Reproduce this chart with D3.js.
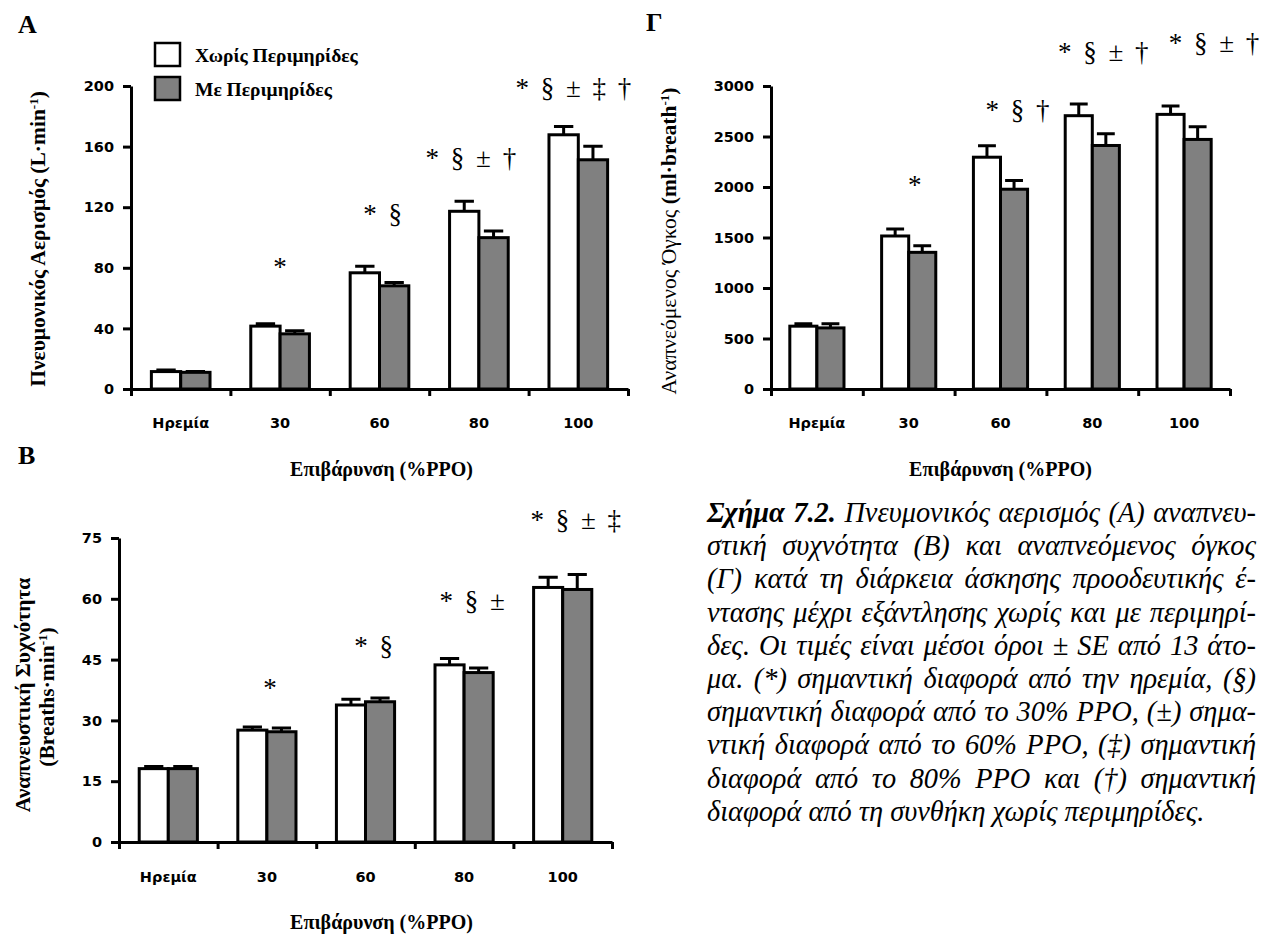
<!DOCTYPE html>
<html>
<head>
<meta charset="utf-8">
<script src="https://cdn.jsdelivr.net/npm/d3@7"></script>
<style>
  html, body { margin: 0; padding: 0; background: #fff; }
  svg { display: block; }
</style>
</head>
<body>
<svg id="fig" width="1273" height="942"></svg>
<script>
// ---- data ----
const categories = ["Ηρεμία", "30", "60", "80", "100"];
const seriesNames = ["Χωρίς Περιμηρίδες", "Με Περιμηρίδες"];

// A: Πνευμονικός αερισμός (L·min-1)
const veTicks = [0, 40, 80, 120, 160, 200];
const veWithout = [11.5, 41.5, 76.7, 117.3, 167.8];
const veWithoutSE = [1.0, 1.5, 4.3, 6.7, 5.5];
const veWith = [11.0, 36.4, 68.1, 99.9, 151.3];
const veWithSE = [0.5, 2.0, 2.2, 4.4, 9.0];
const veMarks = ["", "*", "* §", "* § ± †", "* § ± ‡ †"];

// B: Αναπνευστική συχνότητα (breaths·min-1)
const fbTicks = [0, 15, 30, 45, 60, 75];
const fbWithout = [18.1, 27.6, 33.8, 43.7, 62.8];
const fbWithoutSE = [0.5, 0.8, 1.4, 1.6, 2.5];
const fbWith = [18.1, 27.2, 34.6, 41.8, 62.3];
const fbWithSE = [0.5, 0.9, 0.9, 1.1, 3.7];
const fbMarks = ["", "*", "* §", "* § ±", "* § ± ‡"];

// Γ: Αναπνεόμενος όγκος (ml·breath-1)
const vtTicks = [0, 500, 1000, 1500, 2000, 2500, 3000];
const vtWithout = [622, 1515, 2295, 2706, 2719];
const vtWithoutSE = [23, 69, 113, 116, 83];
const vtWith = [605, 1353, 1978, 2411, 2471];
const vtWithSE = [40, 66, 86, 116, 125];
const vtMarks = ["", "*", "* § †", "* § ± †", "* § ± †"];

const captionLines = [
  "Πνευμονικός αερισμός (A) αναπνευ-",
  "στική συχνότητα (B) και αναπνεόμενος όγκος",
  "(Γ) κατά τη διάρκεια άσκησης προοδευτικής έ-",
  "ντασης μέχρι εξάντλησης χωρίς και με περιμηρί-",
  "δες. Οι τιμές είναι μέσοι όροι ± SE από 13 άτο-",
  "μα. (*) σημαντική διαφορά από την ηρεμία, (§)",
  "σημαντική διαφορά από το 30% PPO, (±) σημα-",
  "ντική διαφορά από το 60% PPO, (‡) σημαντική",
  "διαφορά από το 80% PPO και (†) σημαντική",
  "διαφορά από τη συνθήκη χωρίς περιμηρίδες."
];

// ---- styles ----
const SERIF = "'Liberation Serif', 'Times New Roman', serif";
const SANS = "'DejaVu Sans', Verdana, sans-serif";
const fills = ["#ffffff", "#808080"];
const LW = 3;

const svg = d3.select("#fig");
svg.append("rect").attr("width", 1273).attr("height", 942).attr("fill", "#fff");

function drawPanel(p) {
  const g = svg.append("g");
  const x = d3.scaleBand().domain(categories).range([p.left, p.right]);
  const pairW = x.bandwidth() * 0.59;
  const inner = d3.scaleBand().domain([0, 1]).range([0, pairW]);
  const off = (x.bandwidth() - pairW) / 2;
  const y = d3.scaleLinear().domain([0, p.max]).range([p.bottom, p.top]);
  const capW = inner.bandwidth() * 0.66;

  const series = [
    { vals: p.without, se: p.withoutSE },
    { vals: p.with, se: p.withSE }
  ];

  series.forEach((s, si) => {
    const grp = g.append("g");
    grp.selectAll("rect")
      .data(categories.map((c, i) => ({ c, v: s.vals[i] })))
      .join("rect")
      .attr("x", d => x(d.c) + off + inner(si))
      .attr("y", d => y(d.v))
      .attr("width", inner.bandwidth())
      .attr("height", d => y(0) - y(d.v))
      .attr("fill", fills[si])
      .attr("stroke", "#000")
      .attr("stroke-width", LW);

    grp.selectAll("path.err")
      .data(categories.map((c, i) => ({ c, v: s.vals[i], e: s.se[i] })))
      .join("path")
      .attr("class", "err")
      .attr("d", d => {
        const cx = x(d.c) + off + inner(si) + inner.bandwidth() / 2;
        const y0 = y(d.v), y1 = y(d.v + d.e);
        return `M${cx},${y0}V${y1}M${cx - capW / 2},${y1}H${cx + capW / 2}`;
      })
      .attr("fill", "none")
      .attr("stroke", "#000")
      .attr("stroke-width", LW);
  });

  // y axis
  const ya = g.append("g")
    .attr("transform", `translate(${p.left},0)`)
    .call(d3.axisLeft(y).tickValues(p.ticks).tickFormat(d3.format("d"))
      .tickSize(8).tickSizeOuter(0).tickPadding(9));
  ya.select(".domain").attr("stroke-width", LW);
  ya.selectAll(".tick line").attr("stroke-width", LW);
  ya.selectAll(".tick text")
    .attr("font-family", SANS).attr("font-weight", "bold")
    .attr("font-size", 14.5).attr("fill", "#000");

  // x axis: ticks on category boundaries
  const xb = d3.scaleLinear().domain([0, categories.length]).range([p.left, p.right]);
  const xa = g.append("g")
    .attr("transform", `translate(0,${p.bottom})`)
    .call(d3.axisBottom(xb).tickValues(d3.range(categories.length + 1))
      .tickSize(7).tickSizeOuter(0).tickFormat(""));
  xa.select(".domain").attr("stroke-width", LW);
  xa.selectAll(".tick line").attr("stroke-width", LW);

  // category labels
  const xl = g.append("g")
    .attr("transform", `translate(0,${p.bottom})`)
    .call(d3.axisBottom(x).tickSize(0).tickPadding(p.labelPad));
  xl.select(".domain").remove();
  xl.selectAll(".tick text")
    .attr("font-family", SANS).attr("font-weight", "bold")
    .attr("font-size", 14.5).attr("fill", "#000");

  // x-axis title
  g.append("text")
    .attr("x", (p.left + p.right) / 2 + (p.titleDx || 0))
    .attr("y", p.bottom + 87)
    .attr("text-anchor", "middle")
    .attr("font-family", SERIF).attr("font-weight", "bold").attr("font-size", 20)
    .text("Επιβάρυνση (%PPO)");

  // significance marks
  g.append("g").selectAll("text")
    .data(categories.map((c, i) => ({ c, i, m: p.marks[i] })).filter(d => d.m))
    .join("text")
    .attr("x", d => x(d.c) + x.bandwidth() / 2 + p.markDx[d.i])
    .attr("y", d => {
      const top = Math.max(p.without[d.i] + p.withoutSE[d.i], p.with[d.i] + p.withSE[d.i]);
      return y(top) - p.markGap[d.i];
    })
    .attr("dy", "0.35em")
    .attr("text-anchor", "middle")
    .attr("font-family", SERIF).attr("font-size", 27)
    .attr("word-spacing", 5)
    .text(d => d.m);

  return g;
}

drawPanel({
  left: 131, right: 628, top: 86, bottom: 389, max: 200, ticks: veTicks,
  without: veWithout, withoutSE: veWithoutSE, with: veWith, withSE: veWithSE,
  marks: veMarks, markDx: [0, 0, 3, -8, -5], markGap: [0, 57, 53, 44, 39],
  labelPad: 29, titleDx: 2
});

drawPanel({
  left: 771, right: 1230, top: 86, bottom: 389, max: 3000, ticks: vtTicks,
  without: vtWithout, withoutSE: vtWithoutSE, with: vtWith, withSE: vtWithSE,
  marks: vtMarks, markDx: [0, 6, 17, 11, 30], markGap: [0, 44, 36, 52, 63],
  labelPad: 29
});

drawPanel({
  left: 119, right: 612, top: 538, bottom: 842, max: 75, ticks: fbTicks,
  without: fbWithout, withoutSE: fbWithoutSE, with: fbWith, withSE: fbWithSE,
  marks: fbMarks, markDx: [0, 3, 8, 8, 13], markGap: [0, 39, 53, 58, 55],
  labelPad: 30, titleDx: 16
});

// panel letters
[["A", 18, 33], ["B", 18, 464], ["Γ", 646, 31]].forEach(([t, lx, ly]) => {
  svg.append("text").attr("x", lx).attr("y", ly)
    .attr("font-family", SERIF).attr("font-weight", "bold").attr("font-size", 26)
    .text(t);
});

// y-axis titles
function yTitle(cx, cy, parts) {
  const t = svg.append("text")
    .attr("transform", `translate(${cx},${cy}) rotate(-90)`)
    .attr("text-anchor", "middle").attr("dy", "0.35em")
    .attr("font-family", SERIF).attr("font-size", 21.5);
  parts.forEach(pt => {
    const ts = t.append("tspan").text(pt.t).attr("font-weight", pt.w || "bold");
    if (pt.sup) ts.attr("baseline-shift", "super").attr("font-size", 13);
  });
  return t;
}
yTitle(37, 239, [{ t: "Πνευμονικός Αερισμός  (L·min" }, { t: "-1", sup: true }, { t: ")" }]);
yTitle(668, 241, [{ t: "Αναπνεόμενος Όγκος  ", w: "normal" }, { t: "(ml·breath" }, { t: "-1", sup: true }, { t: ")" }]);
yTitle(22, 695, [{ t: "Αναπνευστική Συχνότητα" }]);
yTitle(46, 697, [{ t: "(Breaths·min" }, { t: "-1", sup: true }, { t: ")" }]);

// legend
const legend = svg.append("g");
seriesNames.forEach((name, i) => {
  legend.append("rect")
    .attr("x", 155).attr("y", 43 + i * 34).attr("width", 25).attr("height", 23)
    .attr("fill", fills[i]).attr("stroke", "#000").attr("stroke-width", 2.5);
  legend.append("text")
    .attr("x", 195).attr("y", 55 + i * 34).attr("dy", "0.35em")
    .attr("font-family", SERIF).attr("font-weight", "bold").attr("font-size", 19.5)
    .text(name);
});

// caption: justified italic serif
const capLeft = 707, capRight = 1256, capTop = 512, capStep = 33.2;
const capW = capRight - capLeft;
const cap = svg.append("g").attr("font-family", SERIF).attr("font-style", "italic");
const capTexts = captionLines.map((line, i) => {
  const t = cap.append("text")
    .attr("x", capLeft).attr("y", capTop + i * capStep)
    .attr("dy", "0.35em");
  if (i === 0) {
    t.append("tspan").attr("font-weight", "bold").text("Σχήμα 7.2.");
    t.append("tspan").text(" " + line);
  } else {
    t.append("tspan").text(line);
  }
  return { t, full: (i === 0 ? "Σχήμα 7.2. " : "") + line };
});
// size the type so the widest justified line sets nearly solid
cap.attr("font-size", 24);
const widest = d3.max(capTexts.slice(0, -1), d => d.t.node().getComputedTextLength());
cap.attr("font-size", 24 * (capW - 6) / widest);
capTexts.forEach((d, i) => {
  if (i === capTexts.length - 1) return;
  const spaces = (d.full.match(/ /g) || []).length;
  const w = d.t.node().getComputedTextLength();
  if (spaces > 0) d.t.attr("word-spacing", (capW - w) / spaces);
});
</script>
</body>
</html>
